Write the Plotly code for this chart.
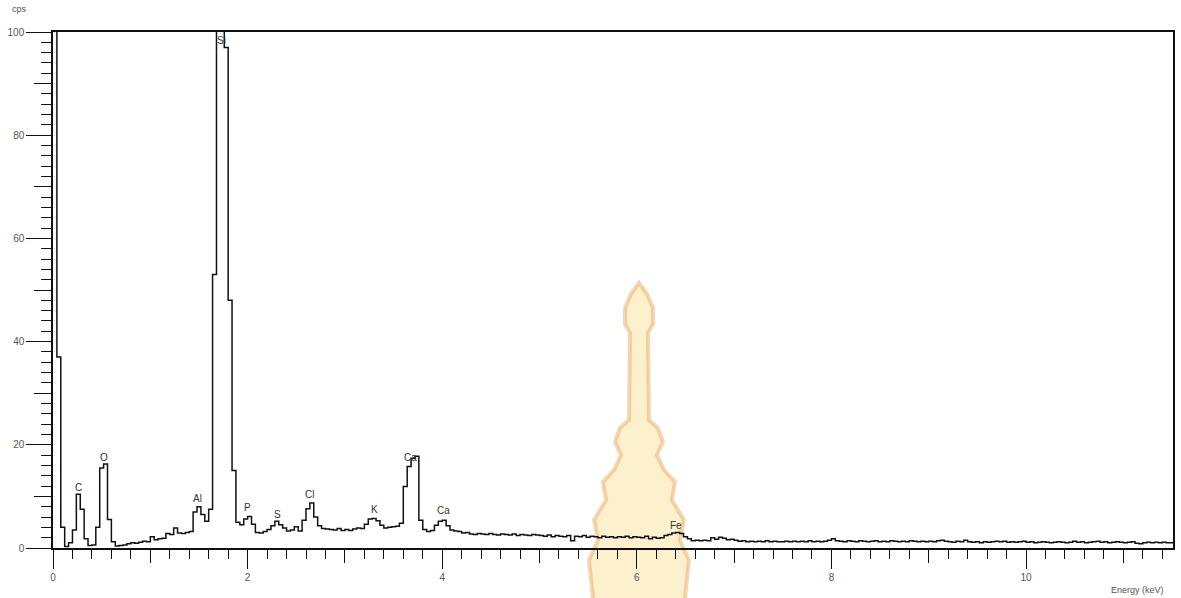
import numpy as np
import plotly.graph_objects as go

# EDS spectrum, counts per second in 0.04 keV channels
BIN_WIDTH = 0.04

counts_0_1 = [170, 37, 4, 0.3, 1.0, 3.5, 10.4, 7.5, 1.8, 0.5,
              0.6, 4.0, 15.5, 16.3, 5.5, 1.2, 0.4, 0.5, 0.6, 0.8,
              1.0, 0.9, 1.1, 1.3, 1.2]
counts_1_2 = [2.2, 1.6, 1.8, 1.9, 2.8, 2.6, 3.9, 2.9, 2.8, 3.0,
              3.2, 7.0, 8.0, 6.5, 5.2, 7.5, 53, 170, 170, 97,
              48, 15, 5.0, 4.5, 5.6]
counts_2_3 = [6.1, 4.6, 3.0, 2.9, 3.2, 3.6, 4.3, 5.2, 4.5, 3.9,
              3.3, 3.5, 4.1, 3.3, 5.4, 7.6, 8.7, 6.0, 4.3, 3.8,
              3.7, 3.6, 3.5, 3.8, 3.4]
counts_3_4 = [3.6, 3.4, 3.7, 3.9, 3.8, 4.6, 5.6, 5.7, 5.3, 4.4,
              3.9, 4.0, 4.1, 4.2, 4.8, 11.9, 15.8, 17.4, 17.8, 5.4,
              3.6, 3.2, 3.4, 4.4, 5.2]
counts_4_5 = [5.4, 4.3, 3.5, 3.3, 3.2, 2.9, 3.0, 2.7, 2.6, 2.8,
              2.7, 2.6, 2.8, 2.6, 2.5, 2.7, 2.6, 2.5, 2.7, 2.4,
              2.6, 2.5, 2.4, 2.6, 2.5]
counts_5_6 = [2.4, 2.3, 2.5, 2.2, 2.4, 2.3, 2.2, 2.4, 1.4, 2.3,
              2.2, 2.4, 2.1, 2.3, 2.2, 2.0, 2.3, 2.1, 2.2, 2.0,
              2.2, 2.1, 2.3, 2.0, 2.2]
counts_6_7 = [2.1, 2.0, 2.3, 1.8, 2.1, 1.9, 2.0, 2.4, 2.6, 2.9,
              3.0, 2.8, 2.2, 1.8, 1.4, 1.5, 1.4, 1.5, 1.4, 2.0,
              1.7, 2.1, 1.9, 1.6, 1.7]
counts_7_8 = [1.5, 1.3, 1.4, 1.2, 1.3, 1.2, 1.3, 1.2, 1.4, 1.2,
              1.3, 1.2, 1.2, 1.3, 1.2, 1.3, 1.2, 1.3, 1.2, 1.4,
              1.2, 1.3, 1.2, 1.3, 1.5]
counts_8_9 = [1.8, 1.4, 1.3, 1.2, 1.4, 1.3, 1.2, 1.4, 1.3, 1.2,
              1.3, 1.4, 1.2, 1.3, 1.2, 1.4, 1.3, 1.2, 1.3, 1.2,
              1.4, 1.3, 1.2, 1.3, 1.2]
counts_9_10 = [1.3, 1.2, 1.4, 1.5, 1.3, 1.2, 1.1, 1.3, 1.2, 1.5,
               1.2, 1.1, 1.2, 1.0, 1.2, 1.1, 1.2, 1.3, 1.2, 1.3,
               1.1, 1.2, 1.1, 1.2, 1.3]
counts_10_end = [1.1, 1.2, 1.0, 1.1, 1.2, 1.1, 1.0, 1.1, 1.2, 1.1,
                 1.0, 1.1, 1.3, 1.1, 1.2, 1.0, 1.1, 1.2, 1.3, 1.1,
                 1.2, 1.0, 1.1, 1.2, 1.1, 1.0, 1.1, 1.2, 0.9, 0.8,
                 1.0, 1.1, 1.0, 1.1, 1.0, 1.1, 1.0, 1.0]

# Peak identifications: element, energy (keV), label height (cps)
peak_names = ["C", "O", "Al", "Si", "P", "S", "Cl", "K", "Ca", "Ca", "Fe"]
peak_energy = [0.26, 0.52, 1.48, 1.73, 2.00, 2.31, 2.64, 3.30, 3.67, 4.01, 6.40]
peak_label_cps = [11.8, 17.6, 9.5, 98.4, 7.8, 6.4, 10.3, 7.4, 17.6, 7.2, 4.3]

x_tick_labels = ["0", "2", "4", "6", "8", "10"]
y_tick_labels = ["0", "20", "40", "60", "80", "100"]

counts = (counts_0_1 + counts_1_2 + counts_2_3 + counts_3_4 + counts_4_5 +
          counts_5_6 + counts_6_7 + counts_7_8 + counts_8_9 + counts_9_10 +
          counts_10_end)
edges = np.round(np.arange(len(counts) + 1) * BIN_WIDTH, 3)
step_y = counts + [counts[-1]]

X_MAX = 11.51
TICK_FONT = dict(family="Liberation Sans, Arial, sans-serif", size=10, color="#555555")

fig = go.Figure()

fig.add_trace(go.Scatter(
    x=edges, y=step_y, mode="lines",
    line=dict(color="#111111", width=1.5, shape="hv"),
    hoverinfo="skip", showlegend=False,
))

# helper trace so the secondary tick axes are drawn
fig.add_trace(go.Scatter(x=[0], y=[0], xaxis="x2", yaxis="y2", mode="markers",
                         marker=dict(opacity=0), hoverinfo="skip", showlegend=False))

for name, e, h in zip(peak_names, peak_energy, peak_label_cps):
    fig.add_annotation(x=e, y=h, text=name, showarrow=False,
                       font=dict(family="Liberation Sans, Arial, sans-serif",
                                 size=10, color="#333333"))

fig.add_annotation(xref="paper", yref="paper", x=-0.03, y=1.045, text="cps",
                   showarrow=False, xanchor="center", yanchor="middle",
                   font=dict(family="Liberation Sans, Arial, sans-serif", size=9, color="#555555"))
fig.add_annotation(xref="paper", yref="paper", x=0.9935, y=-0.082, text="Energy (keV)",
                   showarrow=False, xanchor="right", yanchor="middle",
                   font=dict(family="Liberation Sans, Arial, sans-serif", size=9, color="#555555"))

# decorative emblem behind the spectrum (pixel outline converted to paper units)
def to_paper(px, py):
    return (px - 53) / 1122.0, (548 - py) / 516.0

left_side = [(640, 283), (632, 294), (626, 308), (626, 324), (631, 333), (630, 420),
             (621, 428), (616, 442), (622, 455), (615, 470), (604, 482), (607, 500),
             (595, 520), (599, 540), (590, 560), (594, 600)]
right_side = [(1280 - px, py) for px, py in reversed(left_side)]
outline = left_side + right_side
path = "M " + " L ".join("%.4f,%.4f" % to_paper(px, py) for px, py in outline) + " Z"
fig.add_shape(type="path", path=path, xref="paper", yref="paper", layer="below",
              fillcolor="rgba(246,218,120,0.38)",
              line=dict(color="rgba(232,150,70,0.4)", width=4))

fig.update_layout(
    width=1181, height=598,
    margin=dict(l=53, r=6, t=32, b=50),
    paper_bgcolor="white", plot_bgcolor="rgba(0,0,0,0)",
    xaxis=dict(range=[0, X_MAX], showline=True, linecolor="#111111", linewidth=1.5,
               mirror=True, ticks="outside", ticklen=19, tickwidth=1.2, tickcolor="#111111",
               tickvals=[0, 2, 4, 6, 8, 10], ticktext=x_tick_labels,
               tickfont=TICK_FONT, showgrid=False, zeroline=False,
               minor=dict(ticks="outside", ticklen=9, tickwidth=1.2, tickcolor="#111111",
                          dtick=0.2, tick0=0, showgrid=False)),
    xaxis2=dict(range=[0, X_MAX], overlaying="x", anchor="y", side="bottom",
                ticks="outside", ticklen=14, tickwidth=1.2, tickcolor="#111111",
                dtick=1, tick0=0, showticklabels=False, showline=False,
                showgrid=False, zeroline=False),
    yaxis=dict(range=[0, 100], showline=True, linecolor="#111111", linewidth=1.5,
               mirror=True, ticks="outside", ticklen=25, tickwidth=1.2, tickcolor="#111111",
               tickvals=[0, 20, 40, 60, 80, 100], ticktext=y_tick_labels,
               tickfont=TICK_FONT, showgrid=False, zeroline=False,
               minor=dict(ticks="outside", ticklen=10, tickwidth=1.2, tickcolor="#111111",
                          dtick=2, tick0=0, showgrid=False)),
    yaxis2=dict(range=[0, 100], overlaying="y", anchor="x", side="left",
                ticks="outside", ticklen=18, tickwidth=1.2, tickcolor="#111111",
                dtick=10, tick0=0, showticklabels=False, showline=False,
                showgrid=False, zeroline=False),
)

fig.write_html("out.html")
